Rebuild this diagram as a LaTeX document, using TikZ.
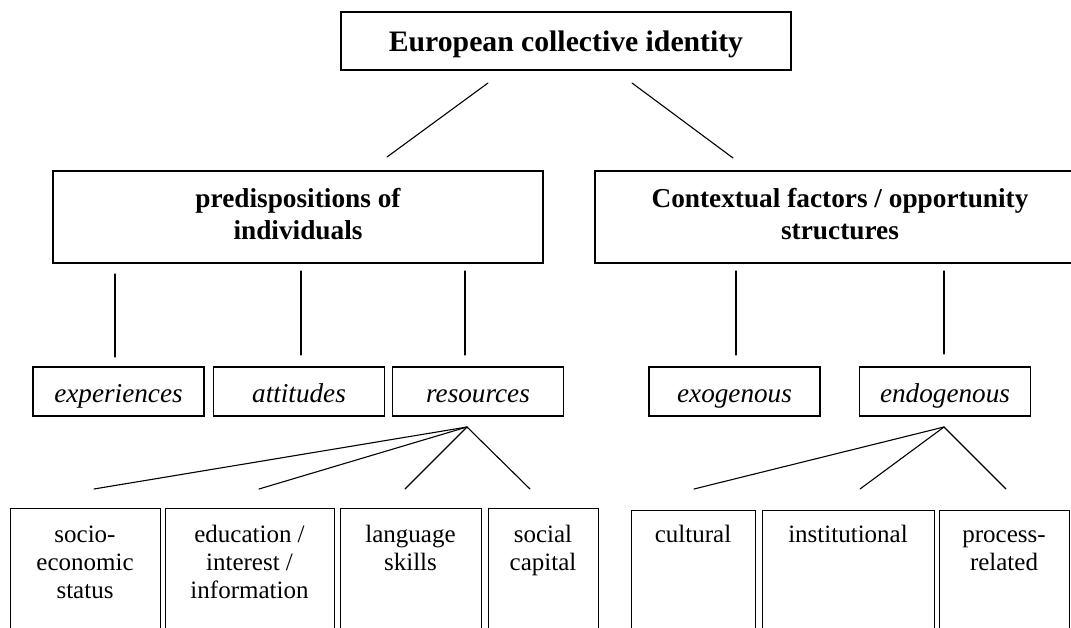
\documentclass[tikz,border=0pt]{standalone}
\usepackage{fontspec}
\setmainfont{Liberation Serif}
\begin{document}
\begin{tikzpicture}[x=1pt,y=-1pt,
  box/.style={draw, line width=1.2pt, inner sep=0pt, align=center},
  topbox/.style={box, minimum width=450pt, minimum height=58pt,
    font=\fontsize{29.7}{34}\selectfont\bfseries, text height=23pt, text depth=1pt},
  midbox/.style={box, minimum width=490pt, minimum height=92pt,
    font=\fontsize{27.3}{31.5}\selectfont\bfseries},
  subbox/.style={box, minimum width=171pt, minimum height=49pt,
    font=\fontsize{27.2}{31}\selectfont\itshape, text height=23pt, text depth=1pt},
  leafbox/.style={draw, line width=1.2pt, inner sep=0pt, anchor=north west},
  leaftext/.style={anchor=north, inner xsep=0pt, inner ysep=14.4pt, align=center,
    font=\fontsize{25}{28}\selectfont},
  link/.style={line width=1.1pt, line cap=round}
]
\useasboundingbox (0,0) rectangle (1071,628);
\fill[white] (0,0) rectangle (1071,628);
\clip (0,0) rectangle (1071,628);

% top level
\node[topbox] (top) at (566,41) {European collective identity};

% second level
\node[midbox] (pred) at (298,217) {predispositions of\\individuals\rule[-6pt]{0pt}{6pt}};
\node[midbox] (ctx) at (840,217) {Contextual factors / opportunity\\structures\rule[-6pt]{0pt}{6pt}};

% third level
\node[subbox] (exp) at (118.5,391.5) {experiences};
\node[subbox] (att) at (299,391.5) {attitudes};
\node[subbox] (res) at (478,391.5) {resources};
\node[subbox] (exo) at (734.5,391.5) {exogenous};
\node[subbox] (endo) at (945,391.5) {endogenous};

% leaves (boxes run past the bottom edge)
\node[leafbox, minimum width=150pt, minimum height=140pt] (socio) at (10,508) {};
\node[leafbox, minimum width=169pt, minimum height=140pt] (edu) at (165,508) {};
\node[leafbox, minimum width=141pt, minimum height=140pt] (lang) at (340,508) {};
\node[leafbox, minimum width=110pt, minimum height=140pt] (soc) at (488,508) {};
\node[leafbox, minimum width=124pt, minimum height=140pt] (cult) at (631,510) {};
\node[leafbox, minimum width=172pt, minimum height=140pt] (inst) at (762,510) {};
\node[leafbox, minimum width=130pt, minimum height=140pt] (proc) at (939,510) {};

\node[leaftext] (sociot) at (85,508) {\strut socio-\\economic\\status};
\node[leaftext] (edut) at (249.5,508) {\strut education /\\interest /\\information};
\node[leaftext] (langt) at (410.5,508) {\strut language\\skills};
\node[leaftext] (soct) at (543,508) {\strut social\\capital};
\node[leaftext] (cultt) at (693,508) {\strut cultural};
\node[leaftext] (instt) at (848,508) {\strut institutional};
\node[leaftext] (proct) at (1004,508) {\strut process-\\related};

% connector end points
\coordinate (topL) at (488,83);   \coordinate (predT) at (387,157);
\coordinate (topR) at (632,83);   \coordinate (ctxT) at (733,158);
\coordinate (predA) at (115,274); \coordinate (expT) at (115,357);
\coordinate (predB) at (301,271); \coordinate (attT) at (301,355);
\coordinate (predC) at (465,271); \coordinate (resT) at (465,355);
\coordinate (ctxA) at (736,271);  \coordinate (exoT) at (736,355);
\coordinate (ctxB) at (944,271);  \coordinate (endoT) at (944,354);
\coordinate (resB) at (467,427);
\coordinate (socioT) at (94,489); \coordinate (eduT) at (259,489);
\coordinate (langT) at (405,489); \coordinate (socT) at (530,489);
\coordinate (endoB) at (944,427);
\coordinate (cultT) at (694,489); \coordinate (instT) at (860,489);
\coordinate (procT) at (1006,489);

\draw[link] (topL) -- (predT);
\draw[link] (topR) -- (ctxT);
\draw[link] (predA) -- (expT);
\draw[link] (predB) -- (attT);
\draw[link] (predC) -- (resT);
\draw[link] (ctxA) -- (exoT);
\draw[link] (ctxB) -- (endoT);
\draw[link] (resB) -- (socioT);
\draw[link] (resB) -- (eduT);
\draw[link] (resB) -- (langT);
\draw[link] (resB) -- (socT);
\draw[link] (endoB) -- (cultT);
\draw[link] (endoB) -- (instT);
\draw[link] (endoB) -- (procT);
\end{tikzpicture}
\end{document}
